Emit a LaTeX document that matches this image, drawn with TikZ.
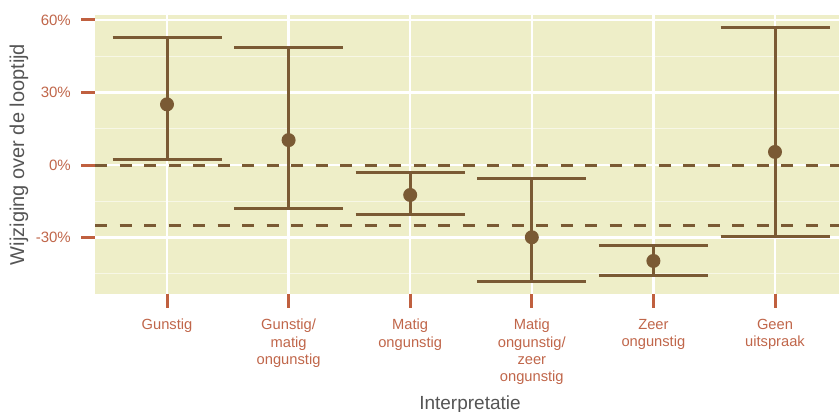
\documentclass[tikz,border=0pt]{standalone}
\usepackage{fontspec}
\setmainfont{Liberation Sans}
\definecolor{panelbg}{HTML}{EEEEC8}
\definecolor{barbrown}{HTML}{7A5A34}
\definecolor{tickred}{HTML}{C0603F}
\definecolor{ticktext}{HTML}{C0664A}
\definecolor{titlegray}{HTML}{555555}
\begin{document}
\begin{tikzpicture}[x=1pt,y=-1pt,
  errbar/.style={barbrown, line width=3pt},
  refline/.style={barbrown, line width=3pt, dash pattern=on 12.3pt off 12.2pt},
  majorgrid/.style={white, line width=2.5pt},
  minorgrid/.style={white!55!panelbg, line width=1.2pt},
  axtick/.style={tickred, line width=3pt},
  ticklabel/.style={ticktext, font=\fontsize{15}{18}\selectfont, inner sep=0pt, anchor=east},
  catlabel/.style={ticktext, font=\fontsize{14.7}{17.3}\selectfont, align=center, inner sep=0pt, anchor=north},
  axtitle/.style={titlegray, font=\fontsize{19}{22}\selectfont, inner sep=0pt},
  estpoint/.style={circle, fill=barbrown, minimum size=14pt, inner sep=0pt}
]
\useasboundingbox (0,0) rectangle (839,412);

% value (in %) -> vertical position
\def\vy#1{165-2.416667*(#1)}

% panel
\fill[panelbg] (95,15) rectangle (839,294);

% minor horizontal grid
\foreach \v in {45,15,-15,-45}
  \draw[minorgrid] (95,{\vy{\v}}) -- (839,{\vy{\v}});
% major horizontal grid
\foreach \v in {60,30,0,-30}
  \draw[majorgrid] (95,{\vy{\v}}) -- (839,{\vy{\v}});
% major vertical grid
\foreach \i in {1,...,6}
  \draw[majorgrid] ({167+121.6*(\i-1)},15) -- ({167+121.6*(\i-1)},294);

% reference lines at 0% and -25%
\coordinate (r0a) at (95,{\vy{0}});
\coordinate (r0b) at (839,{\vy{0}});
\coordinate (r1a) at (95,{\vy{-25}});
\coordinate (r1b) at (839,{\vy{-25}});
\draw[refline] (r0a) -- (r0b);
\draw[refline] (r1a) -- (r1b);

% error bars with estimates
\foreach \i/\u/\p/\l in {1/52.7/25.1/2.4, 2/48.7/10.3/-18.2, 3/-3.2/-12.4/-20.6,
                         4/-5.5/-29.9/-48.0, 5/-33.5/-39.7/-45.6, 6/57.0/5.4/-29.4} {
  \pgfmathsetmacro\cx{167+121.6*(\i-1)}
  \coordinate (up\i) at (\cx,{\vy{\u}});
  \coordinate (lo\i) at (\cx,{\vy{\l}});
  \coordinate (upL\i) at (\cx-54.5,{\vy{\u}});
  \coordinate (upR\i) at (\cx+54.5,{\vy{\u}});
  \coordinate (loL\i) at (\cx-54.5,{\vy{\l}});
  \coordinate (loR\i) at (\cx+54.5,{\vy{\l}});
  \draw[errbar] (up\i) -- (lo\i);
  \draw[errbar] (upL\i) -- (upR\i);
  \draw[errbar] (loL\i) -- (loR\i);
  \node[estpoint] (est\i) at (\cx,{\vy{\p}}) {};
}

% y axis ticks and labels
\foreach \v/\t in {60/60\%, 30/30\%, 0/0\%, -30/-30\%} {
  \draw[axtick] (81,{\vy{\v}}) -- (95,{\vy{\v}});
  \node[ticklabel] at (71,{\vy{\v}}) {\t};
}

% x axis ticks and category labels
\foreach \i/\t in {1/Gunstig, 2/{Gunstig/\\matig\\ongunstig}, 3/{Matig\\ongunstig},
                   4/{Matig\\ongunstig/\\zeer\\ongunstig}, 5/{Zeer\\ongunstig}, 6/{Geen\\uitspraak}} {
  \pgfmathsetmacro\cx{167+121.6*(\i-1)}
  \draw[axtick] (\cx,294) -- (\cx,308);
  \node[catlabel] (cat\i) at (\cx,319) {\t};
}

% axis titles
\node[axtitle, anchor=base] (xtitle) at (470,409) {Interpretatie};
\node[axtitle, rotate=90, font=\fontsize{20}{24}\selectfont] (ytitle) at (19,154.5) {Wijziging over de looptijd};
\end{tikzpicture}
\end{document}
